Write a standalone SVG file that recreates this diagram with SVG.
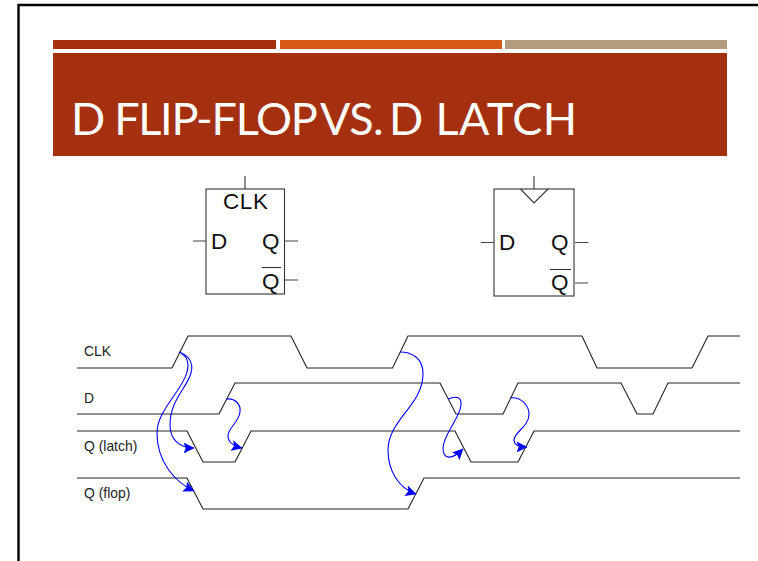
<svg xmlns="http://www.w3.org/2000/svg" width="758" height="561" viewBox="0 0 758 561">
<style>
.ln{fill:none;stroke:#222;stroke-width:1.1}
.gl{fill:none;stroke:#444;stroke-width:1.2}
.bl{fill:none;stroke:#0000ff;stroke-width:1.1;marker-end:url(#ah)}
.big{font-family:"Liberation Sans",Arial,sans-serif;font-size:22.5px;fill:#111}
.sm{font-family:"Liberation Sans",Arial,sans-serif;font-size:13.9px;fill:#222}
.ttl{font-family:Lato,"Open Sans",sans-serif;font-size:45px;fill:#fff}
</style>
<defs>
<marker id="ah" viewBox="0 0 10 10" refX="9.5" refY="5" markerWidth="11" markerHeight="11" markerUnits="userSpaceOnUse" orient="auto">
<path d="M0,0L10,5L0,10L2,5Z" fill="#0000ff"/>
</marker>
</defs>
<rect width="758" height="561" fill="#fff"/>
<path id="frame" d="M18.5,561V5H758" fill="none" stroke="#000" stroke-width="2.4"/>
<g id="banner">
<rect x="53" y="40" width="223" height="9" fill="#A5300F"/>
<rect x="280" y="40" width="222" height="9" fill="#D55816"/>
<rect x="505" y="40" width="222" height="9" fill="#B19C7D"/>
<rect x="53" y="53" width="674" height="103" fill="#A5300F"/>
<text class="ttl" y="135"><tspan x="71" letter-spacing="-1.3">D FLIP-FLOP </tspan><tspan x="320" letter-spacing="-0.6">VS. </tspan><tspan x="389" letter-spacing="0.4">D LATCH</tspan></text>
</g>
<g id="latch-symbol">
<rect x="206" y="189" width="78.500" height="105" fill="none" stroke="#333" stroke-width="1.1"/>
<path class="gl" d="M245,176V189M193,241H206M285,241H298M285,280H298"/>
<text class="big" x="223" y="209" textLength="45">CLK</text>
<text class="big" x="211" y="249">D</text>
<text class="big" x="262" y="249">Q</text>
<text class="big" x="262" y="289">Q</text>
<path d="M262,267.500H281" stroke="#333" stroke-width="1.1" fill="none"/>
</g>
<g id="flop-symbol">
<rect x="494" y="189" width="80" height="107" fill="none" stroke="#333" stroke-width="1.1"/>
<path class="gl" d="M534,176V189M481,242.500H494M575,242.500H588M575,283H588"/>
<path d="M520.500,189L534,203L548,189" fill="none" stroke="#333" stroke-width="1.1"/>
<text class="big" x="499" y="250">D</text>
<text class="big" x="551" y="250">Q</text>
<text class="big" x="551" y="290">Q</text>
<path d="M550,269.500H571" stroke="#333" stroke-width="1.1" fill="none"/>
</g>
<g id="waveforms">
<path class="ln" d="M77,368H172L188,336H291L307,368H392.500L408,336H582L597,368H692L708,336H740"/>
<path class="ln" d="M77,414H219L235,383H440L456,414H503L518,383H621L637,414H653L668,383H740"/>
<path class="ln" d="M77,431H187L203,462H235L251,431H455L471,462H518L534,431H740"/>
<path class="ln" d="M77,478H187L203,509H408L424,478H740"/>
<text class="sm" x="84" y="356">CLK</text>
<text class="sm" x="84" y="403">D</text>
<text class="sm" x="84" y="451">Q (latch)</text>
<text class="sm" x="84" y="498">Q (flop)</text>
</g>
<g id="connectors">
<path class="bl" d="M179,352C188,355 194,362 191,373C187,388 170,400 170,425C170,440 180,448 194,448"/>
<path class="bl" d="M179,352C186,355 190,362 187,372C183,390 157,410 157,433C157,462 175,482 194,491"/>
<path class="bl" d="M226,399C236,398 241,405 240,412C239,422 228,428 228,436C228,442 234,446 242,448"/>
<path class="bl" d="M400,352C412,352 423,358 423,374C423,405 388,420 388,450C388,470 398,488 416,494"/>
<path class="bl" d="M448,399C455,396 462,396 461,405C460,418 443,435 443,448C443,460 452,460 463,449"/>
<path class="bl" d="M510,398C520,396 529,405 529,414C529,427 514,432 514,440C514,445 520,447 527,447"/>
</g>
</svg>
